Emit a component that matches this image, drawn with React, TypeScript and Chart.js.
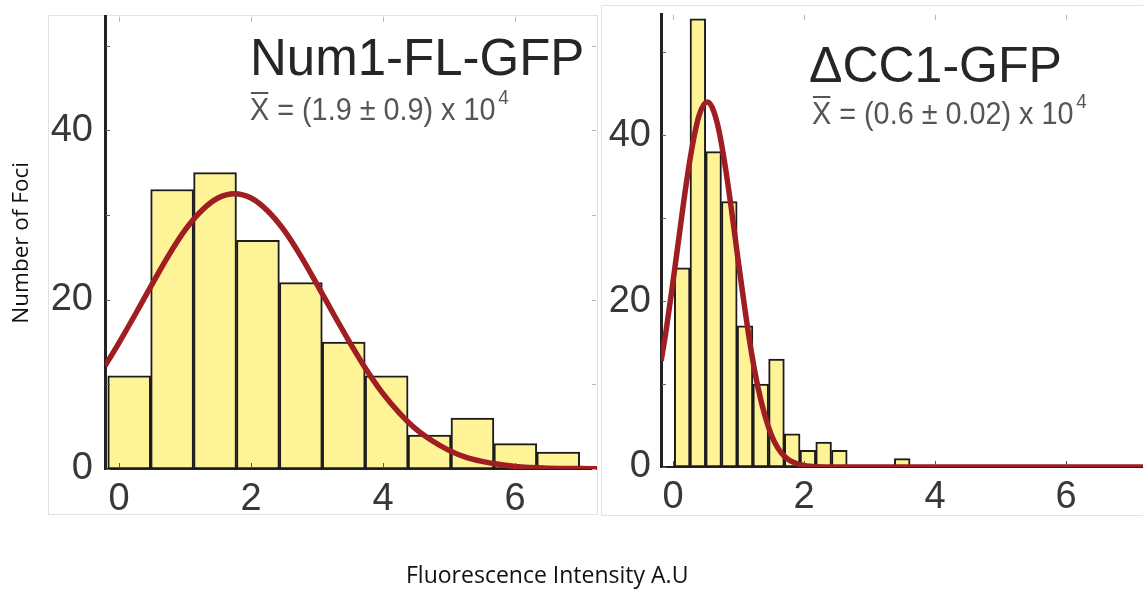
import React, { useEffect, useRef } from 'react';
import { Chart, registerables } from 'chart.js';

Chart.register(...registerables);

// ---------- data ----------
// Left panel: Num1-FL-GFP
const leftBinCenters = [0.155, 0.805, 1.455, 2.105, 2.755, 3.405, 4.055, 4.705, 5.355, 6.005, 6.655];
const leftCounts = [11, 33, 35, 27, 22, 15, 11, 4, 6, 3, 2];
const leftFitX = [-0.21, 0, 0.25, 0.5, 0.75, 1.0, 1.25, 1.5, 1.75, 2.0, 2.25, 2.5, 2.75, 3.0, 3.25, 3.5, 3.75, 4.0, 4.25, 4.5, 4.75, 5.0, 5.25, 5.5, 5.75, 6.0, 6.5, 7.0, 7.3];
const leftFitY = [12.2, 14.9, 18.3, 21.8, 25.2, 28.2, 30.5, 32.0, 32.5, 32.0, 30.5, 28.2, 25.2, 21.8, 18.3, 14.9, 11.7, 8.9, 6.6, 4.7, 3.3, 2.2, 1.4, 0.9, 0.55, 0.3, 0.1, 0.05, 0.03];

// Right panel: ΔCC1-GFP
const rightBinCenters = [0.14, 0.38, 0.62, 0.86, 1.1, 1.34, 1.58, 1.82, 2.06, 2.3, 2.54, 3.5];
const rightCounts = [24, 54, 38, 32, 17, 10, 13, 4, 2, 3, 2, 1];
const rightFitX = [-0.18, -0.1, 0, 0.1, 0.2, 0.3, 0.4, 0.52, 0.6, 0.7, 0.8, 0.9, 1.0, 1.1, 1.2, 1.3, 1.4, 1.5, 1.6, 1.7, 1.8, 2.0, 2.2, 2.5, 3.0, 4.0, 5.0, 6.0, 7.3];
const rightFitY = [12.8, 16.7, 22.3, 28.2, 34.0, 38.9, 42.4, 44.0, 43.3, 40.6, 36.1, 30.6, 24.6, 18.9, 13.7, 9.5, 6.3, 3.9, 2.3, 1.3, 0.7, 0.18, 0.03, 0, 0, 0, 0, 0, 0];

const xTickValues = [0, 2, 4, 6];
const yLabelTicks = [0, 20, 40];
const yMinorTicks = [0, 10, 20, 30, 40, 50];

const leftTitle = 'Num1-FL-GFP';
const leftSubtitle = 'X = (1.9 ± 0.9) x 10';
const rightTitle = 'ΔCC1-GFP';
const rightSubtitle = 'X = (0.6 ± 0.02) x 10';
const exponentText = '4';
const yAxisTitle = 'Number of Foci';
const xAxisTitle = 'Fluorescence Intensity A.U';

// ---------- styling ----------
const BAR_FILL = '#FFF397';
const BAR_EDGE = '#1c1c1c';
const FIT_COLOR = '#9F1E22';
const TICK_FONT = '"Liberation Sans", Arial, sans-serif';
const LABEL_FONT = '"Open Sans", "Noto Sans", sans-serif';

type Panel = {
  centers: number[];
  counts: number[];
  fitX: number[];
  fitY: number[];
  xMin: number;
  xMax: number;
  yMax: number;
  yAxisWidth: number;
  xAxisHeight: number;
  padTop: number;
  yLabelPad: number;
  title: string;
  titleX: number;
  titleY: number;
  titleSize: number;
  sub: string;
  subX: number;
  subY: number;
  showYTitle: boolean;
  rightTicks: boolean;
};

function textPlugin(p: Panel) {
  return {
    id: 'panelText',
    afterDraw(chart: any) {
      const ctx = chart.ctx as CanvasRenderingContext2D;
      ctx.save();
      ctx.textBaseline = 'alphabetic';
      ctx.textAlign = 'left';
      ctx.fillStyle = '#262626';
      ctx.font = `${p.titleSize}px ${TICK_FONT}`;
      ctx.fillText(p.title, p.titleX, p.titleY);

      ctx.fillStyle = '#555555';
      ctx.translate(p.subX, p.subY);
      ctx.scale(0.9, 1);
      ctx.font = `32px ${TICK_FONT}`;
      ctx.fillText(p.sub, 0, 0);
      const w = ctx.measureText(p.sub).width;
      const xw = ctx.measureText('X').width;
      ctx.fillRect(1, -28, xw - 2, 2);
      ctx.font = `21px ${TICK_FONT}`;
      ctx.fillText(exponentText, w + 3, -16);
      ctx.restore();
    },
  };
}

function tickPlugin(p: Panel) {
  return {
    id: 'inwardTicks',
    afterDatasetsDraw(chart: any) {
      const ctx = chart.ctx as CanvasRenderingContext2D;
      const a = chart.chartArea;
      const xs = chart.scales.x;
      const ys = chart.scales.y;
      ctx.save();
      ctx.lineWidth = 1;
      for (const v of xTickValues) {
        const px = Math.round(xs.getPixelForValue(v)) + 0.5;
        ctx.strokeStyle = '#555';
        ctx.beginPath();
        ctx.moveTo(px, a.bottom - 1);
        ctx.lineTo(px, a.bottom - 6);
        ctx.stroke();
        ctx.strokeStyle = '#b5b5b5';
        ctx.beginPath();
        ctx.moveTo(px, a.top);
        ctx.lineTo(px, a.top + 5);
        ctx.stroke();
      }
      for (const v of yMinorTicks) {
        const py = Math.round(ys.getPixelForValue(v)) + 0.5;
        ctx.strokeStyle = '#666';
        ctx.beginPath();
        ctx.moveTo(a.left + 1, py);
        ctx.lineTo(a.left + 5, py);
        ctx.stroke();
        if (p.rightTicks) {
          ctx.strokeStyle = '#b5b5b5';
          ctx.beginPath();
          ctx.moveTo(a.right - 1, py);
          ctx.lineTo(a.right - 5, py);
          ctx.stroke();
        }
      }
      ctx.restore();
    },
  };
}

function makeConfig(p: Panel): any {
  return {
    type: 'bar',
    data: {
      datasets: [
        {
          type: 'line',
          data: p.fitX.map((x, i) => ({ x, y: p.fitY[i] })),
          borderColor: FIT_COLOR,
          borderWidth: 5.5,
          pointRadius: 0,
          fill: false,
          cubicInterpolationMode: 'monotone',
          order: 0,
        },
        {
          type: 'bar',
          data: p.centers.map((x, i) => ({ x, y: p.counts[i] })),
          backgroundColor: BAR_FILL,
          borderColor: BAR_EDGE,
          borderWidth: 2,
          borderSkipped: false,
          barPercentage: 1,
          categoryPercentage: 1,
          grouped: false,
          order: 1,
        },
      ],
    },
    options: {
      animation: false,
      responsive: false,
      devicePixelRatio: 1,
      layout: { padding: { top: p.padTop, left: 0, right: 0, bottom: 0 } },
      plugins: { legend: { display: false }, tooltip: { enabled: false }, title: { display: false } },
      scales: {
        x: {
          type: 'linear',
          min: p.xMin,
          max: p.xMax,
          bounds: 'data',
          offset: false,
          grid: { display: false, offset: false, drawTicks: false },
          border: { display: true, color: '#222', width: 2 },
          ticks: {
            font: { family: TICK_FONT, size: 38 },
            color: '#383838',
            padding: 8,
            autoSkip: false,
            maxRotation: 0,
            callback: (v: number) => String(v),
          },
          afterBuildTicks: (s: any) => {
            s.ticks = xTickValues.map((value) => ({ value }));
          },
          afterFit: (s: any) => {
            s.height = p.xAxisHeight;
          },
        },
        y: {
          type: 'linear',
          min: 0,
          max: p.yMax,
          bounds: 'data',
          grid: { display: false, drawTicks: false },
          border: { display: true, color: '#222', width: 3 },
          ticks: {
            font: { family: TICK_FONT, size: 38, lineHeight: 0.25 },
            color: '#383838',
            padding: p.yLabelPad,
            autoSkip: false,
            callback: (v: number) => String(v),
          },
          title: {
            display: p.showYTitle,
            text: yAxisTitle,
            color: '#111',
            font: { family: LABEL_FONT, size: 22.5 },
            padding: { top: 8, bottom: 0 },
          },
          afterBuildTicks: (s: any) => {
            s.ticks = yLabelTicks.map((value) => ({ value }));
          },
          afterFit: (s: any) => {
            s.width = p.yAxisWidth;
          },
        },
      },
    },
    plugins: [tickPlugin(p), textPlugin(p)],
  };
}

const leftPanel: Panel = {
  centers: leftBinCenters,
  counts: leftCounts,
  fitX: leftFitX,
  fitY: leftFitY,
  xMin: -0.212,
  xMax: 7.242,
  yMax: 53.4,
  yAxisWidth: 105,
  xAxisHeight: 127,
  padTop: 15,
  yLabelPad: 12,
  title: leftTitle,
  titleX: 250,
  titleY: 75,
  titleSize: 51,
  sub: leftSubtitle,
  subX: 250,
  subY: 120,
  showYTitle: true,
  rightTicks: true,
};

const rightPanel: Panel = {
  centers: rightBinCenters,
  counts: rightCounts,
  fitX: rightFitX,
  fitY: rightFitY,
  xMin: -0.183,
  xMax: 7.176,
  yMax: 54.5,
  yAxisWidth: 60,
  xAxisHeight: 129,
  padTop: 6,
  yLabelPad: 10,
  title: rightTitle,
  titleX: 208,
  titleY: 82,
  titleSize: 50,
  sub: rightSubtitle,
  subX: 211,
  subY: 124,
  showYTitle: false,
  rightTicks: false,
};

function PanelChart({ panel, left, width }: { panel: Panel; left: number; width: number }) {
  const ref = useRef<HTMLCanvasElement | null>(null);
  useEffect(() => {
    if (!ref.current) return;
    const chart = new Chart(ref.current, makeConfig(panel));
    return () => chart.destroy();
  }, [panel]);
  return (
    <canvas
      ref={ref}
      width={width}
      height={596}
      style={{ position: 'absolute', left, top: 0, width, height: 596, display: 'block' }}
    />
  );
}

export default function App() {
  return (
    <div
      style={{
        position: 'fixed',
        left: 0,
        top: 0,
        width: 1143,
        height: 596,
        overflow: 'hidden',
        background: '#ffffff',
      }}
    >
      <div
        style={{
          position: 'absolute',
          left: 48,
          top: 15,
          width: 548,
          height: 498,
          border: '1px solid #e2e2e2',
        }}
      />
      <div
        style={{
          position: 'absolute',
          left: 601,
          top: 5,
          width: 560,
          height: 509,
          borderLeft: '1px solid #e2e2e2',
          borderTop: '1px solid #e2e2e2',
          borderBottom: '1px solid #e2e2e2',
        }}
      />
      <PanelChart panel={leftPanel} left={0} width={597} />
      <PanelChart panel={rightPanel} left={601} width={542} />
      <div
        style={{
          position: 'absolute',
          left: 406,
          top: 563,
          fontFamily: LABEL_FONT,
          fontSize: 23,
          lineHeight: '22px',
          color: '#111',
          whiteSpace: 'nowrap',
        }}
      >
        {xAxisTitle}
      </div>
    </div>
  );
}
